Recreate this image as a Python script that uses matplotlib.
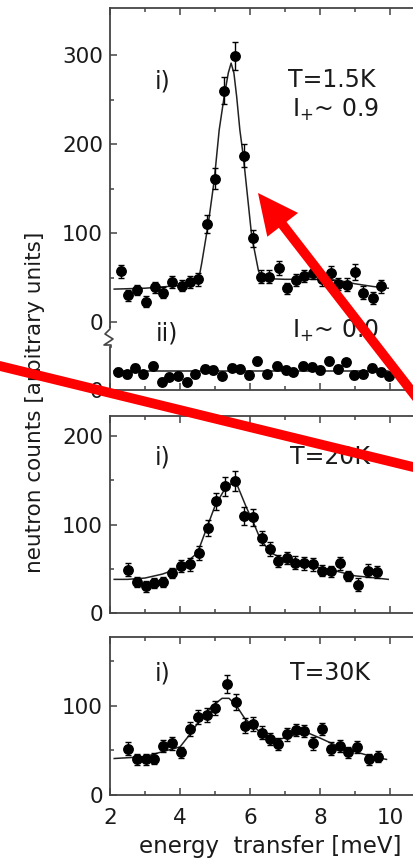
from __future__ import annotations

import matplotlib

matplotlib.use("Agg")
import matplotlib.pyplot as plt
from matplotlib.lines import Line2D
from matplotlib.patches import FancyArrowPatch
from matplotlib.ticker import MultipleLocator, FixedLocator


FIG_W_PX = 413
FIG_H_PX = 860

# panel i) T=1.5K
E_15K = [2.31, 2.52, 2.76, 3.02, 3.29, 3.52, 3.78, 4.05, 4.29, 4.52, 4.78, 5.00, 5.27, 5.57, 5.84, 6.08,
         6.31, 6.55, 6.82, 7.07, 7.31, 7.55, 7.81, 8.05, 8.31, 8.52, 8.76, 9.00, 9.24, 9.51, 9.74]
N_15K = [57, 30, 36, 23, 39, 33, 45, 41, 45, 48, 110, 161, 260, 299, 187, 94,
         51, 51, 61, 38, 47, 52, 55, 48, 55, 43, 42, 56, 33, 27, 40]
ERR_15K = [7, 6, 6, 6, 6, 6, 7, 6, 7, 7, 10, 12, 15, 16, 13, 10,
           7, 7, 8, 6, 7, 7, 7, 7, 8, 7, 7, 9, 7, 7, 7]
FIT_E_15K = [2.12, 3.0, 4.0, 4.52, 4.62, 4.81, 4.98, 5.12, 5.26, 5.38, 5.46, 5.54, 5.62, 5.71, 5.81,
             5.93, 6.05, 6.24, 6.33, 7.0, 8.0, 8.5, 9.0, 9.5, 9.95]
FIT_15K = [37, 38, 41, 45, 66, 111, 160, 216, 253, 280, 291, 280, 253, 216, 186,
           141, 96, 58, 49, 48, 48, 47, 43, 40, 38]

# panel ii) I+ ~ 0.0
E_00 = [2.24, 2.48, 2.71, 2.95, 3.22, 3.48, 3.69, 3.95, 4.19, 4.43, 4.70, 4.95, 5.21, 5.48, 5.71, 5.97,
        6.19, 6.50, 6.76, 7.02, 7.24, 7.52, 7.76, 8.00, 8.26, 8.51, 8.73, 8.98, 9.24, 9.50, 9.74, 9.97]
N_00 = [20.6, 17.6, 25.1, 17.6, 27.4, 9.4, 15.0, 16.1, 9.4, 17.6, 23.6, 22.5, 16.1, 25.1, 23.6, 16.9,
        32.6, 17.6, 27.4, 22.5, 20.6, 27.4, 26.2, 22.5, 32.6, 23.6, 31.1, 16.9, 17.6, 25.1, 20.6, 16.1]
ERR_00 = [4] * len(E_00)
FIT_E_00 = [2.10, 9.95]
FIT_00 = [21.5, 21.5]

# T=20K
E_20K = [2.52, 2.76, 3.02, 3.26, 3.52, 3.78, 4.03, 4.29, 4.54, 4.79, 5.03, 5.29, 5.57, 5.84, 6.10,
         6.33, 6.57, 6.81, 7.05, 7.29, 7.54, 7.81, 8.05, 8.31, 8.57, 8.81, 9.10, 9.36, 9.62]
N_20K = [49, 35, 30, 34, 35, 45, 53, 55, 68, 96, 126, 143, 149, 110, 108,
         85, 72, 59, 62, 57, 56, 55, 48, 47, 56, 42, 32, 48, 46]
ERR_20K = [7, 6, 6, 6, 6, 6, 7, 7, 8, 9, 10, 11, 11, 10, 10,
           8, 8, 7, 7, 7, 7, 7, 6, 6, 7, 6, 7, 7, 7]
FIT_E_20K = [2.12, 2.5, 3.0, 3.5, 4.0, 4.5, 5.0, 5.3, 5.5, 5.65, 5.9, 6.1, 6.3, 6.6, 7.0,
             7.5, 8.0, 8.5, 9.0, 9.5, 9.95]
FIT_20K = [38, 38, 39.5, 44, 51, 68, 121, 141.5, 147, 143, 119, 102, 83, 68, 60,
           55, 51, 47, 42, 40, 38]

# T=30K
E_30K = [2.52, 2.76, 3.02, 3.26, 3.52, 3.78, 4.03, 4.29, 4.52, 4.78, 5.00, 5.33, 5.59, 5.86, 6.10,
         6.33, 6.57, 6.81, 7.05, 7.31, 7.54, 7.81, 8.05, 8.31, 8.57, 8.81, 9.05, 9.41, 9.67]
N_30K = [52, 40, 40, 41, 55, 58, 48, 74, 88, 90, 98, 125, 105, 78, 80,
         70, 63, 57, 68, 73, 72, 58, 74, 52, 55, 48, 54, 40, 43]
ERR_30K = [7, 6, 6, 6, 7, 7, 6, 8, 8, 8, 8, 10, 9, 8, 8,
           7, 7, 7, 7, 7, 7, 7, 7, 7, 7, 6, 7, 6, 6]
FIT_E_30K = [2.12, 3.0, 3.5, 4.0, 4.3, 4.6, 4.9, 5.2, 5.4, 5.6, 5.85, 6.1, 6.4, 6.8, 7.1,
             7.4, 7.7, 8.0, 8.5, 9.0, 9.5, 9.9]
FIT_30K = [41, 43, 48.7, 54, 69, 86, 99, 108.6, 108.6, 101, 86, 77, 67, 62, 65.5,
           69, 69, 64, 55, 48.7, 43, 40]

X_MAJOR = [2, 4, 6, 8, 10]
X_LIM = (2, 11)

SPINE_COLOR = "#444444"
TEXT_COLOR = "#1a1a1a"
TICK_FS = 15.5
NOTE_FS = 17


def _axes_rect(top_px: float, bottom_px: float) -> list[float]:
    left = 110 / FIG_W_PX
    width = (X_LIM[1] - X_LIM[0]) * 35 / FIG_W_PX
    return [left, 1 - bottom_px / FIG_H_PX, width, (bottom_px - top_px) / FIG_H_PX]


def _style_axes(ax, show_top: bool, show_bottom: bool, xlabels: bool) -> None:
    ax.set_xlim(*X_LIM)
    ax.spines["right"].set_visible(False)
    ax.spines["top"].set_visible(show_top)
    ax.spines["bottom"].set_visible(show_bottom)
    for side in ("left", "top", "bottom"):
        ax.spines[side].set_color(SPINE_COLOR)
        ax.spines[side].set_linewidth(1.3)
    ax.xaxis.set_major_locator(FixedLocator(X_MAJOR))
    ax.xaxis.set_minor_locator(MultipleLocator(1))
    ax.tick_params(axis="x", which="both", direction="in", top=show_top, bottom=show_bottom,
                   labelbottom=xlabels, labeltop=False, color=SPINE_COLOR, width=1.1)
    ax.tick_params(axis="x", which="major", length=5, labelsize=TICK_FS, pad=9, labelcolor=TEXT_COLOR)
    ax.tick_params(axis="x", which="minor", length=3)
    ax.tick_params(axis="y", which="both", direction="in", left=True, right=False,
                   color=SPINE_COLOR, width=1.1)
    ax.tick_params(axis="y", which="major", length=5, labelsize=TICK_FS, pad=5, labelcolor=TEXT_COLOR)
    ax.tick_params(axis="y", which="minor", length=3)
    ax.patch.set_alpha(0)


def _plot_panel(ax, e, n, err, fit_e, fit_n) -> None:
    ax.plot(fit_e, fit_n, color="#222222", lw=1.1, zorder=2)
    ax.errorbar(e, n, yerr=err, fmt="o", color="black", ms=6.8, elinewidth=1.0,
                capsize=2, capthick=1.0, zorder=3)


def main() -> None:
    plt.rcParams["font.family"] = ["DejaVu Sans"]
    plt.rcParams["mathtext.fontset"] = "dejavusans"

    fig = plt.figure(figsize=(FIG_W_PX / 100, FIG_H_PX / 100), dpi=100)

    # panel i) T=1.5K
    ax1 = fig.add_axes(_axes_rect(8, 327))
    _plot_panel(ax1, E_15K, N_15K, ERR_15K, FIT_E_15K, FIT_15K)
    ax1.set_ylim(-5.6, 353)
    ax1.yaxis.set_major_locator(FixedLocator([0, 100, 200, 300]))
    ax1.yaxis.set_minor_locator(FixedLocator([50, 150, 250]))
    _style_axes(ax1, show_top=True, show_bottom=False, xlabels=False)
    ax1.text(3.51, 270, "i)", fontsize=NOTE_FS, ha="center", va="center", color=TEXT_COLOR)
    ax1.text(7.08, 272, "T=1.5K", fontsize=NOTE_FS, ha="left", va="center", color=TEXT_COLOR)
    ax1.text(7.2, 238, r"I$_{+}$~ 0.9", fontsize=NOTE_FS, ha="left", va="center", color=TEXT_COLOR)

    # panel ii) I+ ~ 0.0
    ax2 = fig.add_axes(_axes_rect(347, 390))
    _plot_panel(ax2, E_00, N_00, ERR_00, FIT_E_00, FIT_00)
    ax2.set_ylim(0, 48.4)
    ax2.yaxis.set_major_locator(FixedLocator([0]))
    ax2.yaxis.set_minor_locator(FixedLocator([]))
    _style_axes(ax2, show_top=False, show_bottom=True, xlabels=False)
    ax2.text(3.63, 64, "ii)", fontsize=NOTE_FS, ha="center", va="center", color=TEXT_COLOR,
             clip_on=False)
    ax2.text(7.2, 67, r"I$_{+}$~ 0.0", fontsize=NOTE_FS, ha="left", va="center", color=TEXT_COLOR,
             clip_on=False)

    # broken left axis between i) and ii)
    zig_x = [110, 110, 105, 113, 104, 111, 111]
    zig_y = [327, 329, 334, 339, 345, 345, 347]
    fig.add_artist(Line2D([x / FIG_W_PX for x in zig_x], [1 - y / FIG_H_PX for y in zig_y],
                          transform=fig.transFigure, color=SPINE_COLOR, lw=1.2))

    # T=20K
    ax3 = fig.add_axes(_axes_rect(416, 613))
    _plot_panel(ax3, E_20K, N_20K, ERR_20K, FIT_E_20K, FIT_20K)
    ax3.set_ylim(0, 222.6)
    ax3.yaxis.set_major_locator(FixedLocator([0, 100, 200]))
    ax3.yaxis.set_minor_locator(FixedLocator([50, 150]))
    _style_axes(ax3, show_top=True, show_bottom=True, xlabels=False)
    ax3.text(3.51, 176, "i)", fontsize=NOTE_FS, ha="center", va="center", color=TEXT_COLOR)
    ax3.text(7.14, 176, "T=20K", fontsize=NOTE_FS, ha="left", va="center", color=TEXT_COLOR)

    # T=30K
    ax4 = fig.add_axes(_axes_rect(637, 795))
    _plot_panel(ax4, E_30K, N_30K, ERR_30K, FIT_E_30K, FIT_30K)
    ax4.set_ylim(0, 177.5)
    ax4.yaxis.set_major_locator(FixedLocator([0, 100]))
    ax4.yaxis.set_minor_locator(FixedLocator([50, 150]))
    _style_axes(ax4, show_top=True, show_bottom=True, xlabels=True)
    ax4.text(3.51, 137, "i)", fontsize=NOTE_FS, ha="center", va="center", color=TEXT_COLOR)
    ax4.text(7.14, 137, "T=30K", fontsize=NOTE_FS, ha="left", va="center", color=TEXT_COLOR)

    fig.text(270 / FIG_W_PX, 1 - 847 / FIG_H_PX, "energy  transfer [meV]", fontsize=16.5,
             ha="center", va="center", color=TEXT_COLOR)
    fig.text(35 / FIG_W_PX, 1 - 402 / FIG_H_PX, "neutron counts [arbitrary units]", fontsize=TICK_FS,
             rotation=90, ha="center", va="center", color=TEXT_COLOR)

    # red overlay marks
    fig.add_artist(Line2D([-0.02, 1.02], [1 - 364 / FIG_H_PX, 1 - 469 / FIG_H_PX],
                          transform=fig.transFigure, color="#ff0000", lw=7,
                          solid_capstyle="butt", zorder=10))
    arrow = FancyArrowPatch((430 / FIG_W_PX, 445 / FIG_H_PX), (258 / FIG_W_PX, 667 / FIG_H_PX),
                            transform=fig.transFigure,
                            arrowstyle="simple,head_length=2.9,head_width=2.8,tail_width=0.7",
                            mutation_scale=10, color="#ff0000", lw=0, shrinkA=0, shrinkB=0,
                            zorder=10)
    fig.add_artist(arrow)

    fig.savefig("out.png", dpi=100, facecolor="white")
    plt.close(fig)


if __name__ == "__main__":
    main()
